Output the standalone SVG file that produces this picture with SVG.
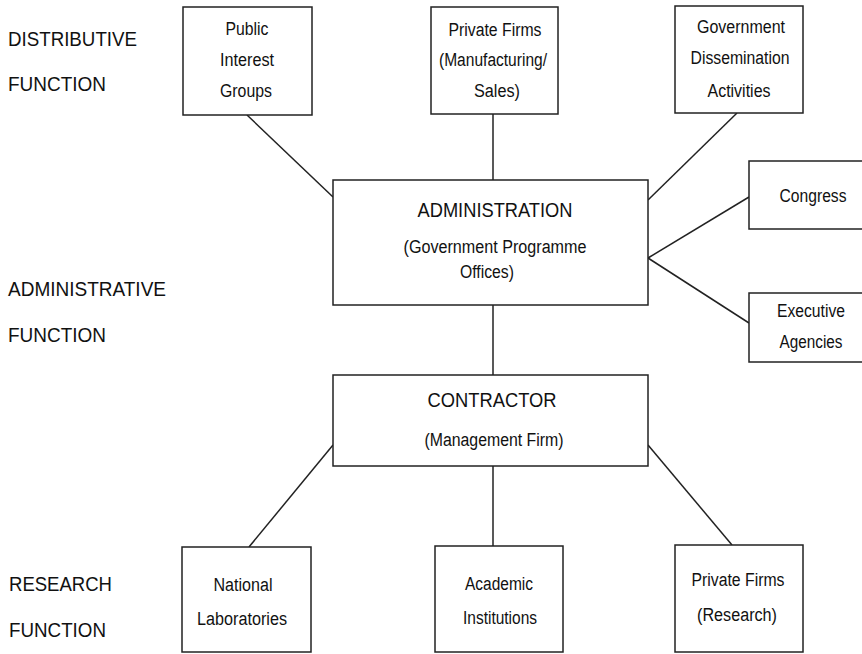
<svg xmlns="http://www.w3.org/2000/svg" width="862" height="654" viewBox="0 0 862 654">
<style>
  .box { fill: #fff; stroke: #222; stroke-width: 1.5; }
  .conn line { stroke: #222; stroke-width: 1.5; }
  text { font-family: "Liberation Sans", Arial, sans-serif; fill: #111; }
  .t { font-size: 18px; text-anchor: middle; }
  .h { font-size: 21px; text-anchor: middle; }
  .side { font-size: 21px; }
</style>
<rect width="862" height="654" fill="#fff"/>

<g id="side-labels">
  <text class="side" x="8" y="46" textLength="129" lengthAdjust="spacingAndGlyphs">DISTRIBUTIVE</text>
  <text class="side" x="8" y="91" textLength="98" lengthAdjust="spacingAndGlyphs">FUNCTION</text>
  <text class="side" x="8" y="296" textLength="158" lengthAdjust="spacingAndGlyphs">ADMINISTRATIVE</text>
  <text class="side" x="8" y="342" textLength="98" lengthAdjust="spacingAndGlyphs">FUNCTION</text>
  <text class="side" x="9" y="591" textLength="103" lengthAdjust="spacingAndGlyphs">RESEARCH</text>
  <text class="side" x="9" y="637" textLength="97" lengthAdjust="spacingAndGlyphs">FUNCTION</text>
</g>

<g class="conn" id="connectors">
  <line x1="247" y1="115" x2="333" y2="197"/>
  <line x1="493" y1="114" x2="493" y2="180"/>
  <line x1="737" y1="113" x2="648" y2="200"/>
  <line x1="648" y1="258" x2="749" y2="197"/>
  <line x1="648" y1="258" x2="749" y2="323"/>
  <line x1="493" y1="305" x2="493" y2="375"/>
  <line x1="333" y1="445" x2="249" y2="547"/>
  <line x1="493" y1="466" x2="493" y2="546"/>
  <line x1="648" y1="445" x2="732" y2="545"/>
</g>

<g id="public-interest-groups">
  <rect class="box" x="183" y="7" width="129" height="108"/>
  <text class="t" x="247" y="35" textLength="43" lengthAdjust="spacingAndGlyphs">Public</text>
  <text class="t" x="247" y="66" textLength="54" lengthAdjust="spacingAndGlyphs">Interest</text>
  <text class="t" x="246" y="97" textLength="52" lengthAdjust="spacingAndGlyphs">Groups</text>
</g>

<g id="private-firms-manufacturing">
  <rect class="box" x="431" y="7" width="127" height="107"/>
  <text class="t" x="495" y="36" textLength="93" lengthAdjust="spacingAndGlyphs">Private Firms</text>
  <text class="t" x="493" y="66" textLength="108" lengthAdjust="spacingAndGlyphs">(Manufacturing/</text>
  <text class="t" x="497" y="97" textLength="46" lengthAdjust="spacingAndGlyphs">Sales)</text>
</g>

<g id="government-dissemination">
  <rect class="box" x="675" y="6" width="128" height="107"/>
  <text class="t" x="741" y="33" textLength="88" lengthAdjust="spacingAndGlyphs">Government</text>
  <text class="t" x="740" y="64" textLength="99" lengthAdjust="spacingAndGlyphs">Dissemination</text>
  <text class="t" x="739" y="97" textLength="63" lengthAdjust="spacingAndGlyphs">Activities</text>
</g>

<g id="congress">
  <rect class="box" x="749" y="161" width="129" height="68"/>
  <text class="t" x="813" y="202" textLength="67" lengthAdjust="spacingAndGlyphs">Congress</text>
</g>

<g id="executive-agencies">
  <rect class="box" x="749" y="293" width="129" height="69"/>
  <text class="t" x="811" y="317" textLength="68" lengthAdjust="spacingAndGlyphs">Executive</text>
  <text class="t" x="811" y="348" textLength="63" lengthAdjust="spacingAndGlyphs">Agencies</text>
</g>

<g id="administration">
  <rect class="box" x="333" y="180" width="315" height="125"/>
  <text class="h" x="495" y="217" textLength="155" lengthAdjust="spacingAndGlyphs">ADMINISTRATION</text>
  <text class="t" x="495" y="253" textLength="183" lengthAdjust="spacingAndGlyphs">(Government Programme</text>
  <text class="t" x="487" y="278" textLength="54" lengthAdjust="spacingAndGlyphs">Offices)</text>
</g>

<g id="contractor">
  <rect class="box" x="333" y="375" width="315" height="91"/>
  <text class="h" x="492" y="407" textLength="129" lengthAdjust="spacingAndGlyphs">CONTRACTOR</text>
  <text class="t" x="494" y="446" textLength="139" lengthAdjust="spacingAndGlyphs">(Management Firm)</text>
</g>

<g id="national-laboratories">
  <rect class="box" x="182" y="547" width="129" height="105"/>
  <text class="t" x="243" y="591" textLength="59" lengthAdjust="spacingAndGlyphs">National</text>
  <text class="t" x="242" y="625" textLength="90" lengthAdjust="spacingAndGlyphs">Laboratories</text>
</g>

<g id="academic-institutions">
  <rect class="box" x="435" y="546" width="128" height="106"/>
  <text class="t" x="499" y="590" textLength="68" lengthAdjust="spacingAndGlyphs">Academic</text>
  <text class="t" x="500" y="624" textLength="74" lengthAdjust="spacingAndGlyphs">Institutions</text>
</g>

<g id="private-firms-research">
  <rect class="box" x="675" y="545" width="128" height="107"/>
  <text class="t" x="738" y="586" textLength="93" lengthAdjust="spacingAndGlyphs">Private Firms</text>
  <text class="t" x="737" y="621" textLength="80" lengthAdjust="spacingAndGlyphs">(Research)</text>
</g>
</svg>
